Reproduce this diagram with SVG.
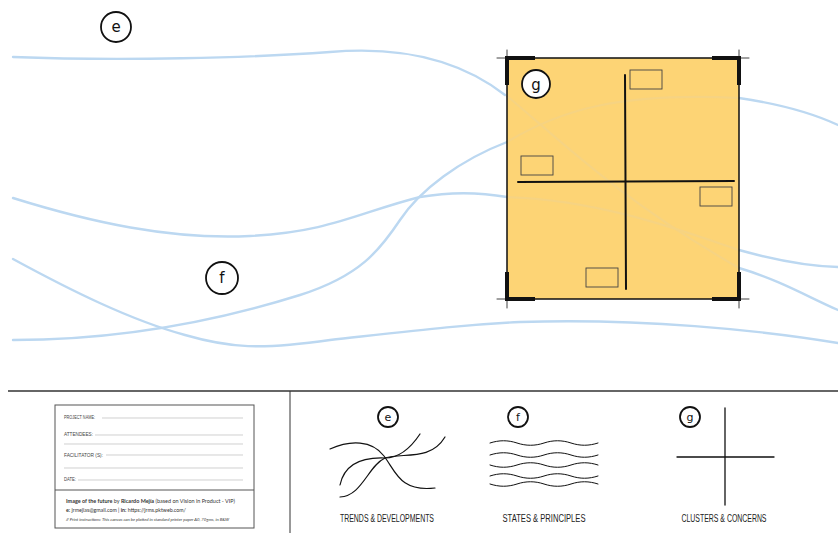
<svg xmlns="http://www.w3.org/2000/svg" width="838" height="533" viewBox="0 0 838 533">
<style>
.flow{fill:none;stroke:#bcd8f1;stroke-width:2.4;stroke-linecap:round}
.faint{fill:none;stroke:#f6d382;stroke-width:2.2}
.ink{fill:none;stroke:#111;stroke-linecap:round}
.badge{fill:#fff;stroke:#111;stroke-width:1.8}
.bl{font-family:"DejaVu Sans","Liberation Sans",sans-serif;font-size:15px;fill:#111;text-anchor:middle}
.bls{font-family:"DejaVu Sans","Liberation Sans",sans-serif;font-size:11px;fill:#111;text-anchor:middle}
.lab{font-family:"Liberation Sans",sans-serif;font-size:10px;fill:#222}
.frm{font-family:"Liberation Sans",sans-serif;font-size:6px;fill:#444}
.rule{stroke:#bbb;stroke-width:0.7}
.note{stroke:#444;stroke-width:0.9;fill:none}
.fine{font-family:Lato,"Liberation Sans",sans-serif;fill:#333}
</style>
<rect width="838" height="533" fill="#fff"/>

<g id="flows">
<path class="flow" d="M13,57 C120,61 250,58 330,52 C400,46 460,60 505,95"/>
<path class="flow" d="M13,198 C90,222 170,240 250,236 C330,232 360,212 420,197 C460,190 490,194 507,197"/>
<path class="flow" d="M13,259 C70,290 130,320 185,335 C230,348 260,350 330,340 C420,330 460,325 520,322 C640,318 760,330 838,343"/>
<path class="flow" d="M13,340 C120,340 220,320 300,295 C360,276 380,250 400,220 C420,190 460,160 507,142"/>
<path class="flow" d="M739,98 C780,104 810,112 838,125"/>
<path class="flow" d="M739,250 C775,260 805,266 838,267"/>
<path class="flow" d="M739,268 C780,280 810,298 838,310"/>
</g>

<g id="node-g-canvas">
<rect x="507" y="58" width="232" height="241" fill="#fdd475"/>
<path class="faint" d="M507,96 C560,140 620,200 739,268"/>
<path class="faint" d="M507,197 C600,200 680,230 739,250"/>
<path class="faint" d="M507,142 C560,110 620,92 739,98"/>
<g class="ink">
<rect x="507" y="58" width="232" height="241" stroke-width="1.2"/>
<line x1="497" y1="58" x2="749" y2="58" stroke-width="0.8"/>
<line x1="497" y1="299" x2="749" y2="299" stroke-width="0.8"/>
<line x1="507" y1="50" x2="507" y2="308" stroke-width="0.8"/>
<line x1="739" y1="50" x2="739" y2="308" stroke-width="0.8"/>
<path d="M507,85 V58 H535" stroke-width="4" stroke-linecap="butt"/>
<path d="M712,58 H739 V85" stroke-width="4" stroke-linecap="butt"/>
<path d="M507,272 V299 H535" stroke-width="4" stroke-linecap="butt"/>
<path d="M712,299 H739 V272" stroke-width="4" stroke-linecap="butt"/>
<line x1="625" y1="75" x2="626" y2="289" stroke-width="2"/>
<line x1="518" y1="182" x2="734" y2="181" stroke-width="2"/>
</g>
<rect class="note" x="630" y="70" width="32" height="19"/>
<rect class="note" x="521" y="156" width="32" height="19"/>
<rect class="note" x="700" y="187" width="32" height="19"/>
<rect class="note" x="586" y="268" width="32" height="19"/>
<circle class="badge" cx="536" cy="84" r="14"/>
<text class="bl" x="536" y="90">g</text>
</g>

<g id="node-e">
<circle class="badge" cx="116" cy="27" r="15"/>
<text class="bl" x="116" y="32">e</text>
</g>
<g id="node-f">
<circle class="badge" cx="222" cy="278" r="16"/>
<text class="bl" x="222" y="283">f</text>
</g>

<g id="divider">
<line x1="8" y1="391" x2="838" y2="391" stroke="#333" stroke-width="1.3"/>
<line x1="290" y1="391" x2="290" y2="533" stroke="#333" stroke-width="1"/>
</g>

<g id="form">
<rect x="55" y="405" width="199" height="123" fill="#fff" stroke="#555" stroke-width="1"/>
<text class="frm" x="64" y="419" textLength="31" lengthAdjust="spacingAndGlyphs">PROJECT NAME:</text>
<line class="rule" x1="102" y1="418" x2="243" y2="418"/>
<text class="frm" x="64" y="436" textLength="29" lengthAdjust="spacingAndGlyphs">ATTENDEES:</text>
<line class="rule" x1="95" y1="435" x2="243" y2="435"/>
<line class="rule" x1="64" y1="444" x2="243" y2="444"/>
<text class="frm" x="64" y="457" textLength="39" lengthAdjust="spacingAndGlyphs">FACILITATOR (S):</text>
<line class="rule" x1="106" y1="455" x2="243" y2="455"/>
<line class="rule" x1="64" y1="468" x2="243" y2="468"/>
<text class="frm" x="64" y="481" textLength="12" lengthAdjust="spacingAndGlyphs">DATE:</text>
<line class="rule" x1="78" y1="480" x2="243" y2="480"/>
<line x1="55" y1="490" x2="254" y2="490" stroke="#555" stroke-width="1"/>
<text class="fine" x="66" y="503" font-size="5.2" textLength="169" lengthAdjust="spacingAndGlyphs"><tspan font-weight="bold">Image of the future</tspan> by <tspan font-weight="bold">Ricardo Mejía</tspan> (based on Vision in Product - VIP)</text>
<text class="fine" x="66" y="512" font-size="5.2" textLength="120" lengthAdjust="spacingAndGlyphs"><tspan font-weight="bold">e:</tspan> jrmejias@gmail.com | <tspan font-weight="bold">in:</tspan> https://jrms.pktweb.com/</text>
<text class="fine" x="66" y="521" font-size="4.2" font-style="italic" fill="#444" textLength="163" lengthAdjust="spacingAndGlyphs">// Print instructions: This canvas can be plotted in standard printer paper A0, 70gms, in B&amp;W</text>
</g>

<g id="legend-e">
<circle class="badge" cx="388" cy="417" r="10"/>
<text class="bls" x="388" y="421">e</text>
<g class="ink" stroke-width="1.2">
<path d="M330,449 C350,440 372,440 384,456 C396,472 400,492 435,488"/>
<path d="M340,497 C362,496 368,466 385,458 C402,452 430,462 445,437"/>
<path d="M340,485 C344,466 360,457 385,458 C400,458 412,446 420,434"/>
</g>
<text class="lab" x="387" y="522" text-anchor="middle" textLength="94" lengthAdjust="spacingAndGlyphs">TRENDS &amp; DEVELOPMENTS</text>
</g>

<g id="legend-f">
<circle class="badge" cx="518" cy="417" r="10"/>
<text class="bls" x="518" y="421">f</text>
<g class="ink" stroke-width="1">
<path d="M490,443 c9,-3 18,-3 27,0 s18,3 27,0 s18,-3 27,0 s18,3 27,0"/>
<path d="M490,455 c9,-3 18,-3 27,0 s18,3 27,0 s18,-3 27,0 s18,3 27,0"/>
<path d="M490,465 c9,3 18,3 27,0 s18,-3 27,0 s18,3 27,0 s18,-3 27,0"/>
<path d="M490,476 c9,-3 18,-3 27,0 s18,3 27,0 s18,-3 27,0 s18,3 27,0"/>
<path d="M490,484 c9,3 18,3 27,0 s18,-3 27,0 s18,3 27,0 s18,-3 27,0"/>
</g>
<text class="lab" x="544" y="522" text-anchor="middle" textLength="83" lengthAdjust="spacingAndGlyphs">STATES &amp; PRINCIPLES</text>
</g>

<g id="legend-g">
<circle class="badge" cx="690" cy="417" r="10"/>
<text class="bls" x="690" y="421">g</text>
<g class="ink" stroke-width="1.3">
<line x1="725" y1="408" x2="725" y2="505"/>
<line x1="677" y1="457" x2="774" y2="457"/>
</g>
<text class="lab" x="724" y="522" text-anchor="middle" textLength="85" lengthAdjust="spacingAndGlyphs">CLUSTERS &amp; CONCERNS</text>
</g>
</svg>
